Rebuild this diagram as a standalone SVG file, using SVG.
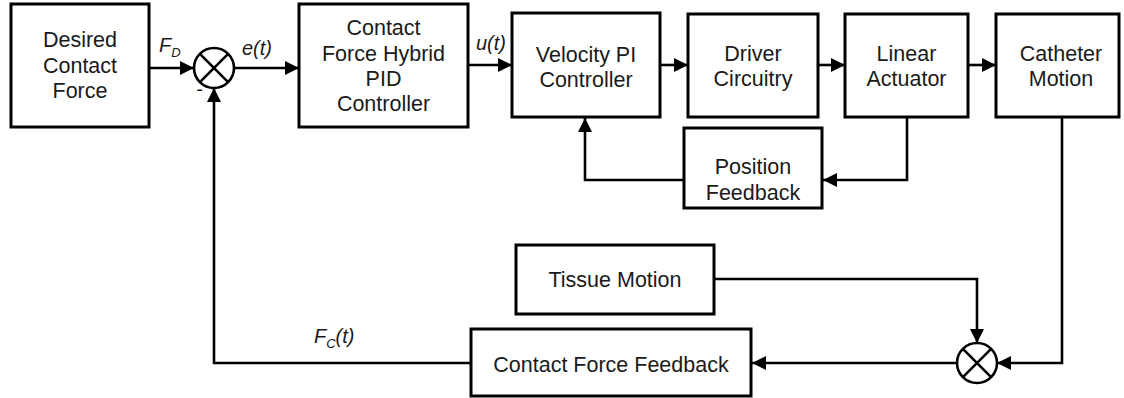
<svg xmlns="http://www.w3.org/2000/svg" width="1124" height="398" viewBox="0 0 1124 398">
  <style>
    .box { fill: #ffffff; stroke: #000000; stroke-width: 3; }
    .sum { fill: #ffffff; stroke: #000000; stroke-width: 2.6; }
    .wire { fill: none; stroke: #000000; stroke-width: 2.6; }
    .lbl { font-family: "Liberation Sans", Arial, sans-serif; font-size: 21.5px; fill: #1a1a1a; text-anchor: middle; }
    .sig { font-family: "Liberation Sans", Arial, sans-serif; font-size: 20px; font-style: italic; fill: #1a1a1a; }
  </style>
  <defs>
    <marker id="arrow" markerUnits="userSpaceOnUse" markerWidth="14" markerHeight="14" viewBox="0 0 14 14" refX="14" refY="7" orient="auto">
      <path d="M0,0 L14,7 L0,14 Z" fill="#000000"/>
    </marker>
  </defs>
  <rect width="1124" height="398" fill="#ffffff"/>

  <!-- connectors -->
  <g id="connectors">
    <path class="wire" d="M149 68 H194" marker-end="url(#arrow)"/>
    <path class="wire" d="M234 68 H299" marker-end="url(#arrow)"/>
    <path class="wire" d="M468 65 H512" marker-end="url(#arrow)"/>
    <path class="wire" d="M660 65 H688" marker-end="url(#arrow)"/>
    <path class="wire" d="M818 65 H845" marker-end="url(#arrow)"/>
    <path class="wire" d="M968 65 H996" marker-end="url(#arrow)"/>
    <path class="wire" d="M907 117 V180 H823" marker-end="url(#arrow)"/>
    <path class="wire" d="M684 180 H585 V118" marker-end="url(#arrow)"/>
    <path class="wire" d="M714 279 H977 V343" marker-end="url(#arrow)"/>
    <path class="wire" d="M1062 117 V363 H997" marker-end="url(#arrow)"/>
    <path class="wire" d="M957 363 H752" marker-end="url(#arrow)"/>
    <path class="wire" d="M471 363 H214 V88" marker-end="url(#arrow)"/>
  </g>

  <!-- signal labels -->
  <text class="sig" x="159" y="52">F<tspan font-size="13" dy="5">D</tspan></text>
  <text class="sig" x="242" y="55">e(t)</text>
  <text class="sig" x="476" y="50">u(t)</text>
  <text class="sig" x="196" y="96" font-style="normal" font-size="18">-</text>
  <text class="sig" x="314" y="343">F<tspan font-size="13" dy="5">C</tspan><tspan dy="-5">(t)</tspan></text>

  <g id="desired">
    <rect class="box" x="11" y="4" width="138" height="123"/>
    <text class="lbl" x="80" y="47">Desired</text>
    <text class="lbl" x="80" y="73">Contact</text>
    <text class="lbl" x="80" y="98">Force</text>
  </g>

  <g id="sum1">
    <circle class="sum" cx="214" cy="68" r="20"/>
    <path class="wire" d="M199.9 53.9 L228.1 82.1 M228.1 53.9 L199.9 82.1"/>
  </g>

  <g id="pid">
    <rect class="box" x="299" y="4" width="169" height="123"/>
    <text class="lbl" x="383.5" y="35">Contact</text>
    <text class="lbl" x="383.5" y="61">Force Hybrid</text>
    <text class="lbl" x="383.5" y="86">PID</text>
    <text class="lbl" x="383.5" y="111">Controller</text>
  </g>

  <g id="velocity">
    <rect class="box" x="512" y="13" width="148" height="104"/>
    <text class="lbl" x="586" y="62">Velocity PI</text>
    <text class="lbl" x="586" y="87">Controller</text>
  </g>

  <g id="driver">
    <rect class="box" x="688" y="14" width="130" height="103"/>
    <text class="lbl" x="753" y="61">Driver</text>
    <text class="lbl" x="753" y="86">Circuitry</text>
  </g>

  <g id="actuator">
    <rect class="box" x="845" y="14" width="123" height="103"/>
    <text class="lbl" x="906.5" y="61">Linear</text>
    <text class="lbl" x="906.5" y="86">Actuator</text>
  </g>

  <g id="catheter">
    <rect class="box" x="996" y="14" width="123" height="103"/>
    <text class="lbl" x="1061" y="61">Catheter</text>
    <text class="lbl" x="1061" y="86">Motion</text>
  </g>

  <g id="position">
    <rect class="box" x="684" y="128" width="138" height="80"/>
    <text class="lbl" x="753" y="174">Position</text>
    <text class="lbl" x="753" y="200">Feedback</text>
  </g>

  <g id="tissue">
    <rect class="box" x="516" y="245" width="198" height="69"/>
    <text class="lbl" x="615" y="287">Tissue Motion</text>
  </g>

  <g id="sum2">
    <circle class="sum" cx="977" cy="363" r="20"/>
    <path class="wire" d="M962.9 348.9 L991.1 377.1 M991.1 348.9 L962.9 377.1"/>
  </g>

  <g id="contact-feedback">
    <rect class="box" x="471" y="329" width="280" height="67"/>
    <text class="lbl" x="611" y="372">Contact Force Feedback</text>
  </g>
</svg>
